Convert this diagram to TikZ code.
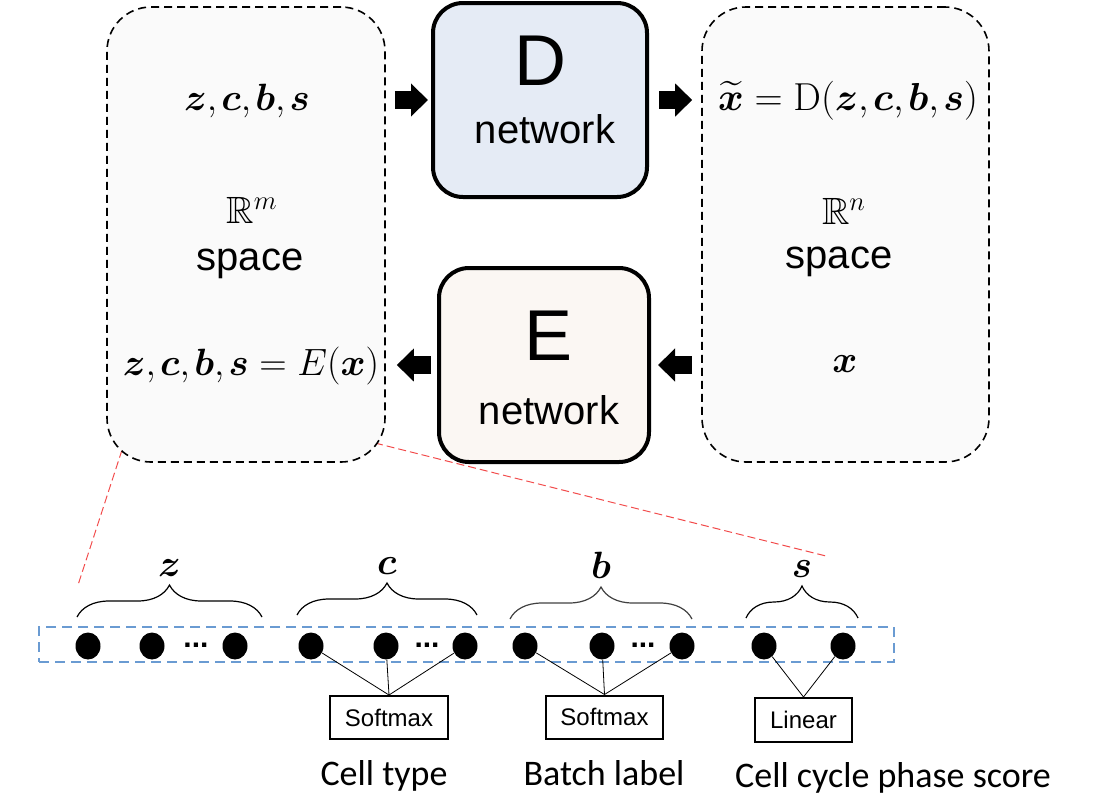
\RequirePackage{fix-cm}
\documentclass[tikz,border=0pt]{standalone}
\usepackage{amsmath,amssymb}
\usepackage[no-math]{fontspec}
\setmainfont{Liberation Sans}
\newfontfamily\calibri{Carlito}
\usetikzlibrary{shapes.geometric,arrows.meta,decorations.pathreplacing,calc,positioning}
\definecolor{spacegray}{HTML}{FAFAFA}
\definecolor{dfill}{HTML}{E5EBF5}
\definecolor{efill}{HTML}{FBF7F3}
\definecolor{vecblue}{HTML}{6A9BD2}
\definecolor{zoomred}{HTML}{F24B4B}
\newcommand{\bv}[1]{\boldsymbol{#1}}
\newcommand{\tightmath}[1]{$\thinmuskip=2mu\relax #1$}

\tikzset{
  spacebox/.style={draw, dash pattern=on 4pt off 2.5pt, line width=0.8pt, rounded corners=22pt, fill=spacegray, inner sep=0pt},
  netbox/.style={draw, line width=2pt, rounded corners=15pt, inner sep=0pt},
  blockarrow/.style={line width=9pt, -{Triangle[length=8.5pt,width=16pt]}},
  mathtext/.style={font=\fontsize{19}{23}\selectfont, inner sep=0pt, anchor=base},
  bigletter/.style={font=\fontsize{36}{40}\selectfont, inner sep=0pt, anchor=base},
  wordtext/.style={font=\fontsize{20}{24}\selectfont, inner sep=0pt, anchor=base},
  unit/.style={ellipse, fill=black, minimum width=12.5pt, minimum height=13.5pt, inner sep=0pt},
  actbox/.style={draw, line width=1pt, font=\fontsize{12}{14}\selectfont, inner sep=0pt, minimum height=21.5pt},
  grouplabel/.style={font=\calibri\fontsize{18}{21}\selectfont, inner sep=0pt, anchor=base},
  bracestyle/.style={decorate, decoration={brace, amplitude=16pt}, line width=0.6pt},
  bracelabel/.style={font=\fontsize{19}{23}\selectfont, inner sep=0pt, above=20pt},
  zoomline/.style={draw=zoomred, dash pattern=on 4pt off 2pt, line width=0.5pt},
  vecbox/.style={draw=vecblue, dash pattern=on 5pt off 3pt, line width=1.1pt, inner sep=0pt}
}

\begin{document}
\begin{tikzpicture}[x=0.5pt,y=-0.5pt]
    \useasboundingbox (0,0) rectangle (1098,800);

    \coordinate (lcornerA) at (122,450);
    \coordinate (lcornerB) at (375,443);
    \coordinate (vecA) at (78,585);
    \coordinate (vecB) at (826,556);
    \draw [zoomline] (lcornerA) -- (vecA);
    \draw [zoomline] (lcornerB) -- (vecB);

    \node [spacebox, minimum width=139pt, minimum height=227.5pt] (lspace) at (246,234.5) {};
    \node [spacebox, minimum width=143.5pt, minimum height=227.5pt] (rspace) at (845.5,234.5) {};
    \node [netbox, fill=dfill, minimum width=107pt, minimum height=97pt] (dnet) at (540,100) {};
    \node [netbox, fill=efill, minimum width=105pt, minimum height=97pt] (enet) at (544,365) {};

    \node [mathtext] (lcode) at (247,110) {\tightmath{\bv{z},\bv{c},\bv{b},\bv{s}}};
    \node [mathtext] (lreal) at (252,223) {$\mathbb{R}^{m}$};
    \node [wordtext] (lword) at (250,270) {space};
    \node [mathtext] (lenc) at (251,375) {\tightmath{\bv{z},\bv{c},\bv{b},\bv{s}=E(\bv{x})}};

    \node [mathtext, font=\fontsize{19.5}{23}\selectfont] (rdec) at (848,110) {\tightmath{\widetilde{\bv{x}}=\mathrm{D}(\bv{z},\bv{c},\bv{b},\bv{s})}};
    \node [mathtext] (rreal) at (844,224) {$\mathbb{R}^{n}$};
    \node [wordtext] (rword) at (839,268) {space};
    \node [mathtext] (rx) at (845,372) {$\bv{x}$};

    \node [bigletter] (dletter) at (540,85) {D};
    \node [wordtext] (dword) at (545,143) {network};
    \node [bigletter] (eletter) at (549,360) {E};
    \node [wordtext] (eword) at (549,424) {network};

    \draw [blockarrow] ([xshift=4.5pt]lspace.east |- dnet) -- ([xshift=-1.5pt]dnet.west);
    \draw [blockarrow] ([xshift=5pt]dnet.east) -- ([xshift=-4.5pt]rspace.west |- dnet);
    \draw [blockarrow] ([xshift=-3pt]enet.west) -- ([xshift=5.5pt]lspace.east |- enet);
    \draw [blockarrow] ([xshift=-4.5pt]rspace.west |- enet) -- ([xshift=3.5pt]enet.east);

    \node [vecbox, minimum width=427.5pt, minimum height=17.5pt] (vec) at (466.5,644.5) {};

    \node [unit] (z1) at (88,646) {};
    \node [unit] (z2) at (152,646) {};
    \node [unit] (z3) at (235,646) {};
    \node [unit] (c1) at (311,646) {};
    \node [unit] (c2) at (386,646) {};
    \node [unit] (c3) at (465,646) {};
    \node [unit] (b1) at (525,646) {};
    \node [unit] (b2) at (602,646) {};
    \node [unit] (b3) at (682,646) {};
    \node [unit] (s1) at (764,646) {};
    \node [unit] (s2) at (843,646) {};

    \node [font=\bfseries\fontsize{15}{18}\selectfont] (zdots) at (196,645) {...};
    \node [font=\bfseries\fontsize{15}{18}\selectfont] (cdots) at (427,645) {...};
    \node [font=\bfseries\fontsize{15}{18}\selectfont] (bdots) at (643,645) {...};

    \draw [bracestyle] (77,617) -- (262,617) node [midway, bracelabel] {$\bv{z}$};
    \draw [bracestyle] (297,615) -- (477,615) node [midway, bracelabel] {$\bv{c}$};
    \draw [bracestyle, black!75] (510,619) -- (692,619) node [midway, bracelabel, black] {$\bv{b}$};
    \draw [bracestyle] (746,618) -- (858,618) node [midway, bracelabel] {$\bv{s}$};

    \node [actbox, minimum width=59pt] (csoft) at (389,717.5) {Softmax};
    \node [actbox, minimum width=58.5pt] (bsoft) at (604.5,717) {Softmax};
    \node [actbox, minimum width=48.5pt, minimum height=22pt] (slin) at (803.5,720) {Linear};

    \draw (c1) -- (csoft.north);
    \draw (c2) -- (csoft.north);
    \draw (c3) -- (csoft.north);
    \draw (b1) -- (bsoft.north);
    \draw (b2) -- (bsoft.north);
    \draw (b3) -- (bsoft.north);
    \draw (s1) -- (slin.north);
    \draw (s2) -- (slin.north);

    \node [grouplabel] (ctype) at (384,785) {Cell type};
    \node [grouplabel] (blabel) at (604,785) {Batch label};
    \node [grouplabel] (sphase) at (893,787) {Cell cycle phase score};
\end{tikzpicture}
\end{document}
